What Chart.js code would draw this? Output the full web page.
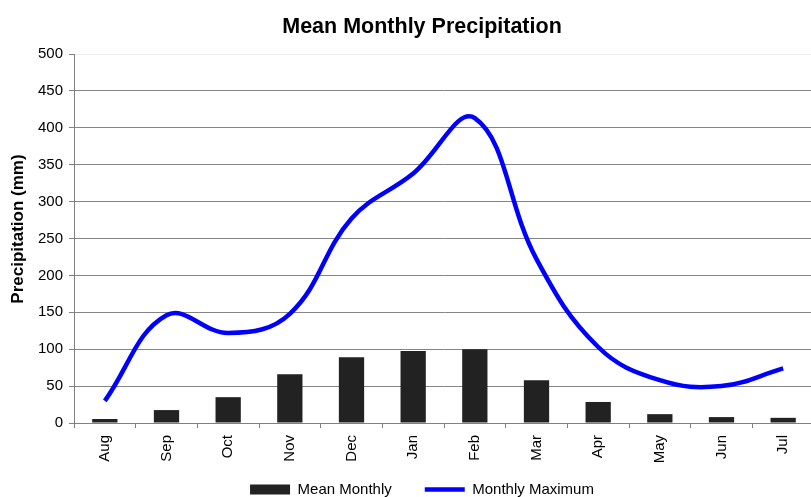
<!DOCTYPE html>
<html>
<head>
<meta charset="utf-8">
<script src="https://cdn.jsdelivr.net/npm/chart.js@4/dist/chart.umd.min.js"></script>
<style>
  html, body { margin: 0; padding: 0; background: #fff; overflow: hidden; }
  #wrap { width: 844px; height: 507px; }
</style>
</head>
<body>
<div id="wrap"><canvas id="chart" width="844" height="507"></canvas></div>
<script>
// Months of the hydrological year, August to July
const months = ['Aug', 'Sep', 'Oct', 'Nov', 'Dec', 'Jan', 'Feb', 'Mar', 'Apr', 'May', 'Jun', 'Jul'];
// Mean monthly precipitation (mm)
const meanMonthly = [5.4, 17.5, 35, 66, 89, 97.5, 100, 58, 28.5, 12, 8, 7];
// Highest recorded monthly precipitation (mm)
const monthlyMaximum = [30, 146, 122, 148, 277, 338, 413, 222, 103, 58, 50, 74];
// Value axis ticks
const yMin = 0, yMax = 500, yStep = 50;

const FONT = "'Liberation Sans', Arial, Helvetica, sans-serif";
Chart.defaults.font.family = FONT;
Chart.defaults.color = '#000';

new Chart(document.getElementById('chart'), {
  type: 'bar',
  data: {
    labels: months,
    datasets: [
      {
        type: 'bar',
        label: 'Mean Monthly',
        data: meanMonthly,
        backgroundColor: '#222222',
        borderWidth: 0,
        categoryPercentage: 1.0,
        barPercentage: 0.41,
        pointStyle: 'rect',
        yAxisID: 'y'
      },
      {
        type: 'line',
        label: 'Monthly Maximum',
        data: monthlyMaximum,
        borderColor: '#0000ff',
        backgroundColor: '#0000ff',
        borderWidth: 4.5,
        tension: 0.4,
        pointRadius: 0,
        pointHoverRadius: 0,
        fill: false,
        pointStyle: 'line',
        yAxisID: 'y'
      }
    ]
  },
  options: {
    responsive: false,
    animation: false,
    layout: { padding: 0 },
    plugins: {
      title: {
        display: true,
        text: 'Mean Monthly Precipitation',
        font: { size: 21.5, weight: 'bold' },
        color: '#000',
        padding: { top: 14, bottom: 14.2 }
      },
      legend: {
        position: 'bottom',
        labels: {
          usePointStyle: true,
          pointStyleWidth: 40,
          boxWidth: 40,
          boxHeight: 10,
          padding: 33,
          font: { size: 15 },
          color: '#000'
        }
      },
      tooltip: { enabled: false }
    },
    scales: {
      x: {
        offset: true,
        grid: {
          offset: true,
          drawOnChartArea: false,
          drawTicks: true,
          tickLength: 5,
          color: '#808080'
        },
        border: { color: '#808080', width: 1 },
        ticks: {
          minRotation: 90,
          maxRotation: 90,
          padding: 7,
          font: { size: 15 },
          color: '#000'
        },
        afterFit: (s) => {
          // keep the axis band short; the month labels may run into the legend band
          s.height = 26;
          s._computeLabelArea = () => undefined;
        }
      },
      y: {
        min: yMin,
        max: yMax,
        ticks: {
          stepSize: yStep,
          padding: 6,
          font: { size: 15 },
          color: '#000'
        },
        grid: {
          color: (c) => (c.tick && c.tick.value === yMax ? '#eeeeee' : '#858585'),
          tickColor: '#808080',
          tickLength: 5,
          lineWidth: 1
        },
        border: { color: '#808080', width: 1 },
        title: {
          display: true,
          text: '    Precipitation (mm)',
          font: { size: 17, weight: 'bold' },
          color: '#000',
          padding: { top: 8, bottom: 0 }
        },
        afterFit: (s) => { s.width = 74; }
      },
      // empty right-hand band: the plot runs past the visible edge
      yRight: {
        type: 'linear',
        position: 'right',
        display: true,
        grid: { display: false, drawTicks: false },
        border: { display: false },
        ticks: { display: false },
        afterFit: (s) => { s.width = 30; }
      }
    }
  }
});
</script>
</body>
</html>
